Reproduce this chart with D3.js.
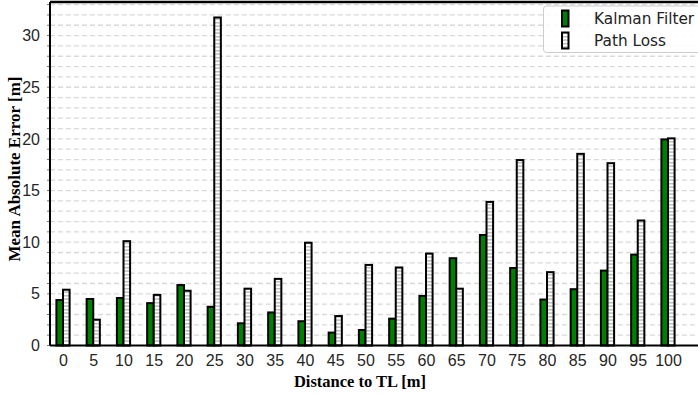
<!DOCTYPE html>
<html lang="en">
<head>
    <meta charset="UTF-8">
    <title>Mean Absolute Error</title>
    <script src="https://cdn.jsdelivr.net/npm/d3@7/dist/d3.min.js"></script>
    <style>
        body { margin: 0; background: #fff; }
    </style>
</head>
<body>
<svg id="main" width="698" height="395"></svg>
<script>
    const distances = [0, 5, 10, 15, 20, 25, 30, 35, 40, 45, 50, 55, 60, 65, 70, 75, 80, 85, 90, 95, 100];
    const kalman = [4.4, 4.5, 4.6, 4.1, 5.85, 3.75, 2.15, 3.2, 2.35, 1.25, 1.5, 2.6, 4.8, 8.45, 10.7, 7.5, 4.45, 5.45, 7.25, 8.8, 19.95];
    const pathLoss = [5.4, 2.5, 10.1, 4.9, 5.3, 31.75, 5.5, 6.45, 9.95, 2.85, 7.8, 7.55, 8.9, 5.5, 13.9, 17.95, 7.1, 18.55, 17.65, 12.1, 20.05];
    const yTicks = [0, 5, 10, 15, 20, 25, 30];
    const seriesNames = ['Kalman Filter', 'Path Loss'];

    let svg = d3.select('svg#main');
    let mLeft = 50, mTop = 2, mBottom = 345.5, mRight = 720;
    let barW = 6.6;

    let x = d3.scalePoint()
        .domain(distances)
        .range([63, 668]);
    let y = d3.scaleLinear()
        .domain([0, 33.25])
        .range([mBottom, mTop]);

    // hatch pattern for the path loss bars
    let defs = svg.append('defs');
    let pat = defs.append('pattern')
        .attr('id', 'dots')
        .attr('patternUnits', 'userSpaceOnUse')
        .attr('width', 4).attr('height', 3.5);
    pat.append('rect').attr('width', 4).attr('height', 3.5).attr('fill', '#fff');
    pat.append('rect').attr('x', 0).attr('y', 1).attr('width', 4).attr('height', 1.3).attr('fill', '#b0b0b0');

    // dashed grid every unit
    svg.append('g')
        .selectAll('line')
        .data(d3.range(1, 34))
        .enter().append('line')
        .attr('x1', mLeft).attr('x2', mRight)
        .attr('y1', d => y(d)).attr('y2', d => y(d))
        .attr('stroke', '#d9d9d9')
        .attr('stroke-width', 1.3)
        .attr('stroke-dasharray', '5,3');

    // small minor ticks on the left
    svg.append('g')
        .selectAll('line')
        .data(d3.range(0, 34))
        .enter().append('line')
        .attr('x1', mLeft - 3).attr('x2', mLeft)
        .attr('y1', d => y(d)).attr('y2', d => y(d))
        .attr('stroke', '#555').attr('stroke-width', 0.8);

    // bars
    svg.append('g').selectAll('rect')
        .data(distances)
        .enter().append('rect')
        .attr('x', d => x(d) - barW)
        .attr('y', (d, i) => y(kalman[i]))
        .attr('width', barW)
        .attr('height', (d, i) => mBottom - y(kalman[i]))
        .attr('fill', '#008000')
        .attr('stroke', '#000').attr('stroke-width', 2);

    svg.append('g').selectAll('rect')
        .data(distances)
        .enter().append('rect')
        .attr('x', d => x(d))
        .attr('y', (d, i) => y(pathLoss[i]))
        .attr('width', barW)
        .attr('height', (d, i) => mBottom - y(pathLoss[i]))
        .attr('fill', 'url(#dots)')
        .attr('stroke', '#000').attr('stroke-width', 2);

    // frame
    svg.append('line').attr('x1', mLeft).attr('x2', mRight).attr('y1', mTop).attr('y2', mTop)
        .attr('stroke', '#000').attr('stroke-width', 2.5);
    svg.append('line').attr('x1', mLeft).attr('x2', mRight).attr('y1', mBottom).attr('y2', mBottom)
        .attr('stroke', '#000').attr('stroke-width', 2);
    svg.append('line').attr('x1', mLeft).attr('x2', mLeft).attr('y1', mTop).attr('y2', mBottom)
        .attr('stroke', '#000').attr('stroke-width', 2);

    // axes
    let xAxis = svg.append('g')
        .attr('transform', 'translate(0,' + mBottom + ')')
        .call(d3.axisBottom(x).tickSize(0).tickPadding(9));
    xAxis.select('.domain').remove();
    xAxis.selectAll('text')
        .attr('font-family', 'Liberation Sans, Arial, sans-serif')
        .attr('font-size', 16).attr('fill', '#262626');

    let yAxis = svg.append('g')
        .attr('transform', 'translate(' + mLeft + ',0)')
        .call(d3.axisLeft(y).tickValues(yTicks).tickSize(0).tickPadding(10));
    yAxis.select('.domain').remove();
    yAxis.selectAll('text')
        .attr('font-family', 'Liberation Sans, Arial, sans-serif')
        .attr('font-size', 16).attr('fill', '#262626');

    // axis titles
    svg.append('text')
        .attr('x', 360).attr('y', 387)
        .attr('text-anchor', 'middle')
        .attr('font-family', 'Liberation Serif, serif')
        .attr('font-weight', 'bold')
        .attr('font-size', 16.5)
        .text('Distance to TL [m]');
    svg.append('text')
        .attr('transform', 'translate(20,169) rotate(-90)')
        .attr('text-anchor', 'middle')
        .attr('font-family', 'Liberation Serif, serif')
        .attr('font-weight', 'bold')
        .attr('font-size', 17)
        .text('Mean Absolute Error [m]');

    // legend
    let legend = svg.append('g').attr('transform', 'translate(543.5,6)');
    legend.append('rect')
        .attr('width', 170).attr('height', 46.5)
        .attr('rx', 3)
        .attr('fill', 'rgba(255,255,255,0.85)')
        .attr('stroke', '#ccc').attr('stroke-width', 1);
    let items = legend.selectAll('.item').data(seriesNames)
        .enter().append('g')
        .attr('class', 'item')
        .attr('transform', (d, i) => 'translate(0,' + (i * 22) + ')');
    items.append('rect')
        .attr('x', 18.5).attr('y', 4.5)
        .attr('width', 6.5).attr('height', 16)
        .attr('fill', (d, i) => i === 0 ? '#008000' : 'url(#dots)')
        .attr('stroke', '#000').attr('stroke-width', 2);
    items.append('text')
        .attr('x', 50.5).attr('y', 17.5)
        .attr('font-family', 'DejaVu Sans, sans-serif')
        .attr('font-size', 15.3)
        .attr('fill', '#222')
        .text(d => d);
</script>
</body>
</html>
